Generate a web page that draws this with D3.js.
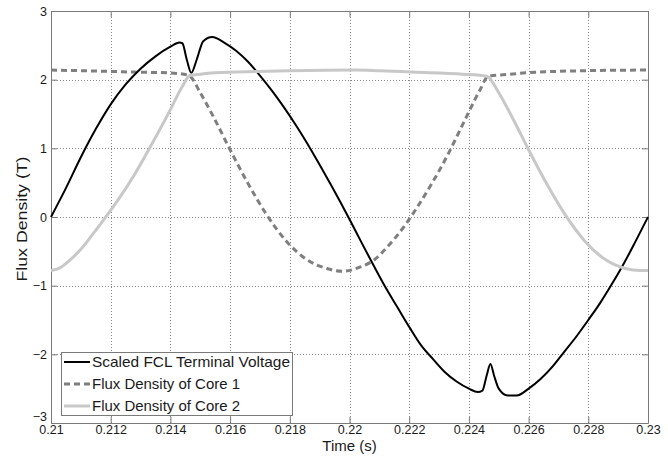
<!DOCTYPE html>
<html><head><meta charset="utf-8">
<script src="https://cdn.jsdelivr.net/npm/d3@7"></script>
<style>
html,body{margin:0;padding:0;background:#fff;}
svg{display:block;font-family:"Liberation Sans",Arial,Helvetica,sans-serif;}
</style></head>
<body>
<svg id="chart" width="668" height="456"></svg>
<script>
// ---- data ----
const xTicks = [0.21,0.212,0.214,0.216,0.218,0.22,0.222,0.224,0.226,0.228,0.23];
const xTickLabels = ["0.21","0.212","0.214","0.216","0.218","0.22","0.222","0.224","0.226","0.228","0.23"];
const yTicks = [-3,-2,-1,0,1,2,3];
const yTickLabels = ["\u22123","\u22122","\u22121","0","1","2","3"];
const seriesNames = ["Scaled FCL Terminal Voltage","Flux Density of Core 1","Flux Density of Core 2"];

const voltageT = [0.2100,0.2105,0.2110,0.2115,0.2120,0.2125,0.2130,0.2135,0.2140,0.2143,0.2144,0.21455,0.2147,0.21488,0.2151,0.2154,0.2158,0.2162,0.2166,0.2170,0.2174,0.2178,0.2182,0.2186,0.2190,0.2194,0.21996,0.2204,0.2208,0.2212,0.2216,0.2220,0.2224,0.2228,0.2232,0.2236,0.2240,0.2243,0.22445,0.2246,0.22472,0.22485,0.2250,0.2253,0.2256,0.2260,0.2264,0.2268,0.2272,0.2276,0.2280,0.2284,0.2288,0.2292,0.2296,0.2300];
const voltageV = [0.00,0.42,0.87,1.28,1.64,1.93,2.16,2.34,2.48,2.54,2.53,2.29,2.10,2.29,2.56,2.62,2.54,2.42,2.26,2.06,1.84,1.60,1.34,1.06,0.76,0.45,0.00,-0.37,-0.70,-1.02,-1.31,-1.60,-1.87,-2.07,-2.26,-2.40,-2.50,-2.55,-2.53,-2.30,-2.14,-2.32,-2.50,-2.60,-2.60,-2.50,-2.36,-2.18,-1.96,-1.74,-1.50,-1.25,-0.97,-0.67,-0.34,0.00];

const core1T = [0.2100,0.2120,0.2128,0.2139,0.21455,0.21466,0.2150,0.21544,0.2160,0.21656,0.21723,0.2179,0.21857,0.21924,0.21975,0.22035,0.2209,0.22113,0.22191,0.22225,0.22326,0.22393,0.22437,0.22465,0.22515,0.22593,0.22784,0.2300];
const core1V = [2.14,2.12,2.11,2.10,2.07,2.05,1.81,1.46,0.98,0.52,0.03,-0.36,-0.62,-0.75,-0.79,-0.73,-0.60,-0.50,-0.09,0.13,0.88,1.47,1.85,2.05,2.07,2.10,2.13,2.14];

const core2T = [0.2100,0.2103,0.2106,0.2110,0.2114,0.2118,0.2122,0.2128,0.2133,0.2139,0.2144,0.21465,0.2150,0.2155,0.2169,0.2180,0.2202,0.2210,0.2221,0.2238,0.2246,0.2250,0.22544,0.2260,0.22656,0.22723,0.2279,0.22857,0.22924,0.22975,0.2300];
const core2V = [-0.78,-0.74,-0.64,-0.47,-0.25,-0.02,0.22,0.62,1.00,1.48,1.90,2.06,2.08,2.10,2.12,2.13,2.14,2.13,2.11,2.08,2.05,1.81,1.46,0.98,0.52,0.03,-0.36,-0.62,-0.75,-0.78,-0.78];

// ---- layout ----
const svg = d3.select("#chart");
const L = 51, R = 648, T = 11, B = 423;
const x = d3.scaleLinear().domain([0.21,0.23]).range([L,R]);
const y = d3.scaleLinear().domain([-3,3]).range([B,T]);

// grid
const grid = svg.append("g").attr("stroke","#8a8a8a").attr("stroke-width",1).attr("stroke-dasharray","1,2");
xTicks.slice(1,-1).forEach(t=>{
  grid.append("line").attr("x1",Math.round(x(t))+0.5).attr("x2",Math.round(x(t))+0.5).attr("y1",T).attr("y2",B);
});
yTicks.slice(1,-1).forEach(v=>{
  grid.append("line").attr("x1",L).attr("x2",R).attr("y1",Math.round(y(v))+0.5).attr("y2",Math.round(y(v))+0.5);
});

// axes via d3 axis (ticks inward)
const xAxis = d3.axisBottom(x).tickValues(xTicks).tickFormat((d,i)=>xTickLabels[i]).tickSizeInner(-6).tickSizeOuter(0).tickPadding(7);
const gx = svg.append("g").attr("transform",`translate(0,${B})`).call(xAxis);
const xAxisTop = d3.axisTop(x).tickValues(xTicks).tickFormat("").tickSizeInner(-6).tickSizeOuter(0);
const gxt = svg.append("g").attr("transform",`translate(0,${T})`).call(xAxisTop);
const yAxis = d3.axisLeft(y).tickValues(yTicks).tickFormat((d,i)=>yTickLabels[i]).tickSizeInner(-6).tickSizeOuter(0).tickPadding(4);
const gy = svg.append("g").attr("transform",`translate(${L},0)`).call(yAxis);
const yAxisR = d3.axisRight(y).tickValues(yTicks).tickFormat("").tickSizeInner(-6).tickSizeOuter(0);
const gyr = svg.append("g").attr("transform",`translate(${R},0)`).call(yAxisR);
[gx,gxt,gy,gyr].forEach(g=>{
  g.select(".domain").attr("stroke","#7a7a7a");
  g.selectAll(".tick line").attr("stroke","#7a7a7a");
  g.selectAll("text").attr("fill","#1a1a1a").style("font-size","12.5px").style("font-family","'Liberation Sans',Arial,sans-serif");
});
gx.selectAll("text").attr("dy","0.35em");
gy.selectAll(".tick text").filter(d=>d===-3).attr("dy","-0.2em");

// series
const line = d3.line().x(d=>x(d[0])).y(d=>y(d[1])).curve(d3.curveMonotoneX);
const zip = (a,b)=>a.map((t,i)=>[t,b[i]]);
const plot = svg.append("g");
plot.append("path").datum(zip(core1T,core1V)).attr("d",line).attr("fill","none")
  .attr("stroke","#7f7f7f").attr("stroke-width",3).attr("stroke-dasharray","6,4");
plot.append("path").datum(zip(voltageT,voltageV)).attr("d",line).attr("fill","none")
  .attr("stroke","#000").attr("stroke-width",2);
plot.append("path").datum(zip(core2T,core2V)).attr("d",line).attr("fill","none")
  .attr("stroke","#c8c8c8").attr("stroke-width",3);

// labels
svg.append("text").attr("x",(L+R)/2).attr("y",451).attr("text-anchor","middle")
  .style("font-size","15px").attr("fill","#1a1a1a").text("Time (s)");
svg.append("text").attr("transform",`translate(27,219) rotate(-90)`).attr("text-anchor","middle")
  .attr("textLength",125).attr("lengthAdjust","spacingAndGlyphs")
  .style("font-size","15px").attr("fill","#1a1a1a").text("Flux Density (T)");

// legend
const lg = svg.append("g");
lg.append("rect").attr("x",61.5).attr("y",352.5).attr("width",231).attr("height",63)
  .attr("fill","#fff").attr("stroke","#7a7a7a").attr("stroke-width",1);
const styles = [
  {c:"#000",w:2,d:null},
  {c:"#7f7f7f",w:3,d:"6,4"},
  {c:"#c8c8c8",w:3,d:null}
];
const rowY = [362,384,406];
const rowLen = [198,148,148];
seriesNames.forEach((n,i)=>{
  const l = lg.append("line").attr("x1",64).attr("x2",90).attr("y1",rowY[i]).attr("y2",rowY[i])
    .attr("stroke",styles[i].c).attr("stroke-width",styles[i].w);
  if(styles[i].d) l.attr("stroke-dasharray",styles[i].d);
  lg.append("text").attr("x",92).attr("y",rowY[i]).attr("dy","0.35em")
    .attr("textLength",rowLen[i]).attr("lengthAdjust","spacingAndGlyphs")
    .style("font-size","14.5px").attr("fill","#1a1a1a").text(n);
});
</script>
</body></html>
